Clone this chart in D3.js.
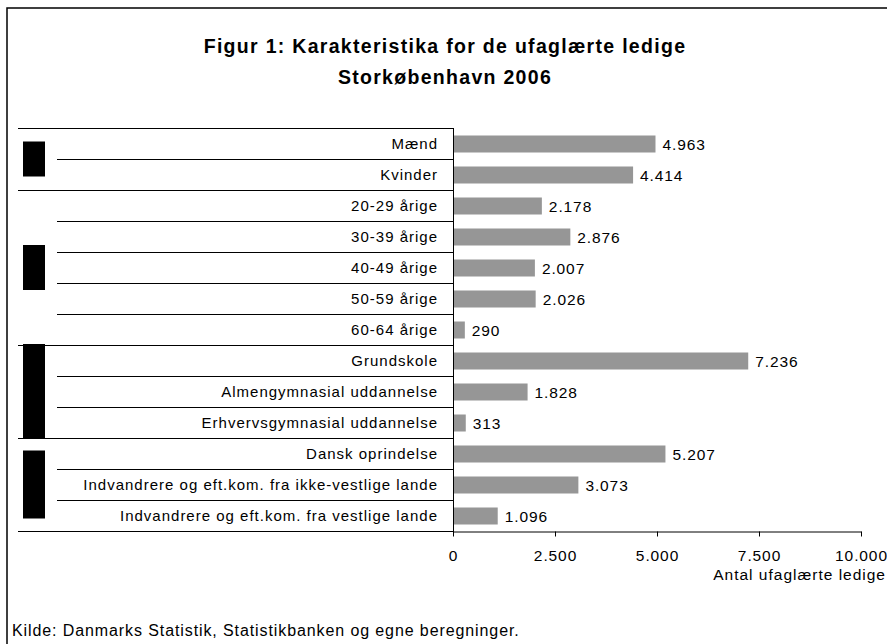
<!DOCTYPE html>
<html>
<head>
<meta charset="utf-8">
<script src="https://cdn.jsdelivr.net/npm/d3@7"></script>
<style>
  body { margin: 0; background: #fff; }
  svg { display: block; }
</style>
</head>
<body>
<div id="chart"></div>
<script>
// data
const categories = [
  "Mænd", "Kvinder",
  "20-29 årige", "30-39 årige", "40-49 årige", "50-59 årige", "60-64 årige",
  "Grundskole", "Almengymnasial uddannelse", "Erhvervsgymnasial uddannelse",
  "Dansk oprindelse",
  "Indvandrere og eft.kom. fra ikke-vestlige lande",
  "Indvandrere og eft.kom. fra vestlige lande"
];
const values = [4963, 4414, 2178, 2876, 2007, 2026, 290, 7236, 1828, 313, 5207, 3073, 1096];
// groups: index of first and last category in each group
const groupStart = [0, 2, 7, 10];
const groupEnd = [1, 6, 9, 12];
const xTicks = [0, 2500, 5000, 7500, 10000];

const titleLines = ["Figur 1: Karakteristika for de ufaglærte ledige", "Storkøbenhavn 2006"];
const xTitle = "Antal ufaglærte ledige";
const source = "Kilde: Danmarks Statistik, Statistikbanken og egne beregninger.";

const width = 887, height = 644;
const font = "Arial, 'Liberation Sans', sans-serif";

const locale = d3.formatLocale({ decimal: ",", thousands: ".", grouping: [3], currency: ["", " kr"] });
const fmt = locale.format(",d");

const svg = d3.select("#chart").append("svg")
  .attr("width", width)
  .attr("height", height)
  .attr("font-family", font);

// outer frame (runs off the right and bottom edge)
svg.append("rect")
  .attr("x", 7).attr("y", 8)
  .attr("width", width + 10).attr("height", height + 10)
  .attr("fill", "#fff")
  .attr("stroke", "#000")
  .attr("stroke-width", 1.5);

// title
svg.append("g").selectAll("text")
  .data(titleLines)
  .join("text")
  .attr("x", 445)
  .attr("y", (d, i) => 53 + i * 31)
  .attr("text-anchor", "middle")
  .attr("font-size", 19.5)
  .attr("font-weight", "bold")
  .attr("letter-spacing", 1.3)
  .text(d => d);

const x = d3.scaleLinear().domain([0, 10000]).range([453, 861]);
const y = d3.scaleBand().domain(categories).range([128, 531]);
const step = y.step();
const barH = 17;

// row separators: full width at group boundaries, indented inside groups
const groupFirst = new Set(groupStart);
const sepData = categories.map((c, i) => ({ y: y(c), full: groupFirst.has(i) }));
sepData.push({ y: y.range()[1], full: true });

svg.append("g").selectAll("line")
  .data(sepData)
  .join("line")
  .attr("x1", d => d.full ? 18 : 57)
  .attr("x2", x(0))
  .attr("y1", d => Math.round(d.y) + 0.5)
  .attr("y2", d => Math.round(d.y) + 0.5)
  .attr("stroke", "#000")
  .attr("stroke-width", 1);

// group markers (black blocks in the left column)
const blockLen = [35, 45, 95, 68];
svg.append("g").selectAll("rect")
  .data(groupStart.map((s, i) => ({ s, e: groupEnd[i], len: blockLen[i] })))
  .join("rect")
  .attr("x", 23)
  .attr("width", 22)
  .attr("y", d => (y(categories[d.s]) + y(categories[d.e]) + step) / 2 - d.len / 2)
  .attr("height", d => d.len)
  .attr("fill", "#000");

// category labels
svg.append("g").selectAll("text")
  .data(categories)
  .join("text")
  .attr("x", 438)
  .attr("y", d => y(d) + step / 2)
  .attr("dy", "0.35em")
  .attr("text-anchor", "end")
  .attr("font-size", 15)
  .attr("letter-spacing", 1)
  .text(d => d);

// bars
svg.append("g").selectAll("rect")
  .data(values)
  .join("rect")
  .attr("x", x(0))
  .attr("y", (d, i) => y(categories[i]) + (step - barH) / 2 + 0.5)
  .attr("width", d => x(d) - x(0))
  .attr("height", barH)
  .attr("fill", "#969696");

// value labels
svg.append("g").selectAll("text")
  .data(values)
  .join("text")
  .attr("x", d => x(d) + 7)
  .attr("y", (d, i) => y(categories[i]) + step / 2 + 1)
  .attr("dy", "0.35em")
  .attr("font-size", 15.5)
  .attr("letter-spacing", 0.9)
  .text(d => fmt(d));

// y axis line
svg.append("line")
  .attr("x1", x(0) + 0.5).attr("x2", x(0) + 0.5)
  .attr("y1", y.range()[0]).attr("y2", y.range()[1] + 5)
  .attr("stroke", "#000");

// x axis
const xAxis = d3.axisBottom(x)
  .tickValues(xTicks)
  .tickSize(5)
  .tickSizeOuter(0)
  .tickFormat(fmt);

const gx = svg.append("g")
  .attr("transform", `translate(0,${Math.round(y.range()[1]) + 0.5})`)
  .call(xAxis);
gx.select(".domain").attr("stroke", "#000");
gx.selectAll(".tick line").attr("stroke", "#000");
gx.selectAll(".tick text")
  .attr("font-family", font)
  .attr("font-size", 15.5)
  .attr("letter-spacing", 0.9)
  .attr("fill", "#000")
  .attr("dy", 0)
  .attr("y", 29);

svg.append("text")
  .attr("x", 886)
  .attr("y", 580)
  .attr("text-anchor", "end")
  .attr("font-size", 15.5)
  .attr("letter-spacing", 1)
  .text(xTitle);

svg.append("text")
  .attr("x", 12)
  .attr("y", 636)
  .attr("font-size", 16)
  .attr("letter-spacing", 0.9)
  .text(source);
</script>
</body>
</html>
